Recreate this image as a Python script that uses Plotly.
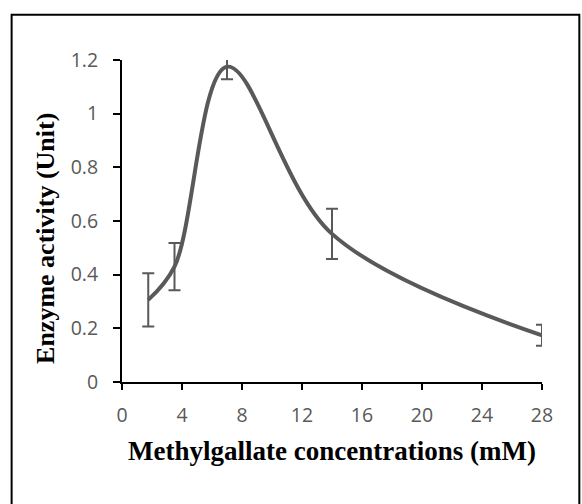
import plotly.graph_objects as go

# Data
conc = [1.75, 3.5, 7, 14, 28]
activity = [0.306, 0.43, 1.175, 0.552, 0.174]
err = [0.099, 0.088, 0.047, 0.094, 0.039]
x_ticks = [0, 4, 8, 12, 16, 20, 24, 28]
y_ticks = [0, 0.2, 0.4, 0.6, 0.8, 1.0, 1.2]
y_ticktext = ["0", "0.2", "0.4", "0.6", "0.8", "1", "1.2"]

W, H = 582, 504
L, R, T, B = 122, 40.3, 60, 122
pw, ph = W - L - R, H - T - B

def px(xp):
    return (xp - L) / pw

def py(yp):
    return (H - B - yp) / ph

fig = go.Figure()
fig.add_trace(go.Scatter(
    x=conc, y=activity, mode="lines",
    line=dict(color="#595959", width=4, shape="spline", smoothing=1),
    error_y=dict(type="data", array=err, visible=True, color="#595959",
                 thickness=2, width=6),
    showlegend=False, hoverinfo="skip",
))

tickfont = dict(family="Open Sans", size=19.5, color="#595959")
fig.update_layout(
    width=W, height=H,
    margin=dict(l=L, r=R, t=T, b=B, autoexpand=False),
    paper_bgcolor="white", plot_bgcolor="white",
    xaxis=dict(range=[0, 28], tickvals=x_ticks, ticks="outside", ticklen=6,
               tickwidth=2, tickcolor="black", showline=True, linecolor="black",
               linewidth=2, showgrid=False, zeroline=False, tickfont=tickfont,
               ticklabelstandoff=9),
    yaxis=dict(range=[0, 1.2], tickvals=y_ticks, ticktext=y_ticktext,
               ticks="outside", ticklen=7, tickwidth=2, tickcolor="black",
               showline=True, linecolor="black", linewidth=2, showgrid=False,
               zeroline=False, tickfont=tickfont, ticklabelstandoff=11),
    shapes=[dict(type="rect", xref="paper", yref="paper",
                 x0=px(11.7), x1=px(579), y0=py(520), y1=py(14.7),
                 line=dict(color="black", width=2), fillcolor="rgba(0,0,0,0)",
                 layer="below")],
    annotations=[
        dict(text="<b>Methylgallate concentrations (mM)</b>", xref="paper", yref="paper",
             x=px(332), y=py(451), xanchor="center", yanchor="middle", showarrow=False,
             font=dict(family="Liberation Serif", size=27, color="black")),
        dict(text="<b>Enzyme activity (Unit)</b>", xref="paper", yref="paper",
             x=px(45), y=py(238), xanchor="center", yanchor="middle", showarrow=False,
             textangle=-90,
             font=dict(family="Liberation Serif", size=26, color="black")),
    ],
)

fig.write_html("out.html")
